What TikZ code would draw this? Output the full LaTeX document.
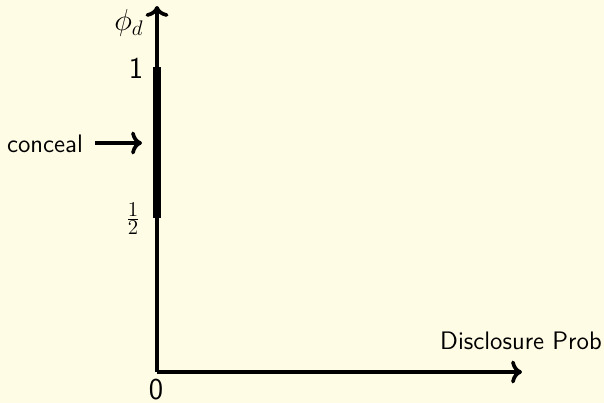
\documentclass[tikz,border=0pt]{standalone}
\usepackage{amsmath}
\usepackage{xcolor}
\usepackage{tikz}
\usetikzlibrary{arrows.meta, positioning}
\definecolor{bgcream}{HTML}{FFFCE5}

\begin{document}
\begin{tikzpicture}[
  axis/.style={->, line width=2.1pt},
  band/.style={line width=4.6pt},
  lbl/.style={font=\sffamily\Large},
  tick/.style={font=\sffamily\LARGE}
]
\fill[bgcream] (0,0) rectangle (12.08,8.06);
\useasboundingbox (0,0) rectangle (12.08,8.06);
\coordinate (o) at (3.14,0.62);
\coordinate (ytop) at (3.14,7.94);
\coordinate (xend) at (10.44,0.62);
\coordinate (half) at (3.14,3.70);
\coordinate (one) at (3.14,6.72);
\coordinate (tip) at (2.84,5.20);
\draw[axis] (o) -- (ytop);
\draw[axis] (o) -- (xend);
\draw[band] (half) -- (one);
\node (phi) at (2.58,7.60) {\LARGE $\phi_d$};
\node[tick] (lone) at (2.72,6.70) {1};
\node (lhalf) at (2.66,3.68) {\fontsize{13}{15}\selectfont $\frac{\textstyle 1}{\textstyle 2}$};
\node[tick] (lzero) at (3.12,0.27) {0};
\node[lbl, anchor=base] (conceal) at (0.90,5.01) {conceal};
\draw[axis] ([xshift=0.12cm]conceal.east |- tip) -- (tip);
\node[lbl] (xlabel) at (10.42,1.24) {Disclosure Prob};
\end{tikzpicture}
\end{document}
